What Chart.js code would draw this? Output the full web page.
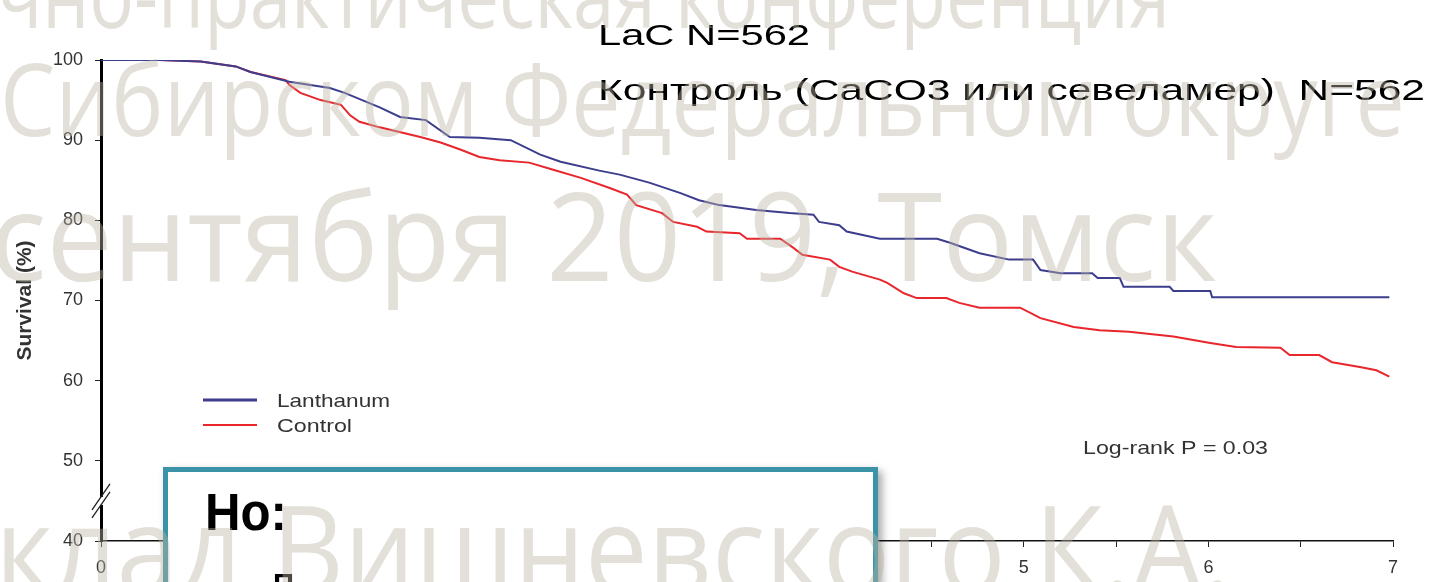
<!DOCTYPE html>
<html>
<head>
<meta charset="utf-8">
<script src="https://cdn.jsdelivr.net/npm/chart.js@4.4.1/dist/chart.umd.min.js"></script>
<style>
  html, body { margin: 0; padding: 0; background: #fff; }
  #wrap { width: 1432px; height: 582px; position: relative; }
</style>
</head>
<body>
<div id="wrap"><canvas id="kmChart"></canvas></div>
<script>
// Kaplan-Meier curves (years, % surviving)
var lanthanumYears = [0, 0.32, 0.54, 0.73, 0.81, 1.02, 1.24, 1.32, 1.51, 1.62, 1.76, 1.89, 2.05, 2.22, 2.38,
    2.49, 2.70, 2.81, 2.97, 3.14, 3.24, 3.35, 3.55, 3.73, 3.86, 3.89, 4.00, 4.04, 4.22, 4.53,
    4.60, 4.76, 4.92, 5.05, 5.09, 5.20, 5.37, 5.40, 5.52, 5.54, 5.79, 5.81, 6.01, 6.02, 6.98];
var lanthanumSurvival = [100, 100, 99.8, 99.2, 98.5, 97.3, 96.5, 95.9, 94.1, 92.9, 92.5, 90.4, 90.3, 90.0, 88.2,
    87.3, 86.2, 85.7, 84.7, 83.4, 82.5, 81.9, 81.3, 80.9, 80.7, 79.8, 79.4, 78.6, 77.7, 77.7,
    77.2, 75.9, 75.1, 75.1, 73.8, 73.4, 73.4, 72.8, 72.8, 71.7, 71.7, 71.2, 71.2, 70.4, 70.4];

var controlYears = [0, 0.32, 0.54, 0.73, 0.81, 1.00, 1.02, 1.08, 1.19, 1.30, 1.35, 1.40, 1.51, 1.73, 1.84,
    1.95, 2.05, 2.16, 2.32, 2.45, 2.60, 2.76, 2.85, 2.90, 3.04, 3.10, 3.23, 3.28, 3.46, 3.50,
    3.68, 3.75, 3.80, 3.95, 4.00, 4.07, 4.22, 4.26, 4.35, 4.42, 4.58, 4.65, 4.76, 4.98, 5.09,
    5.27, 5.41, 5.57, 5.81, 6.01, 6.15, 6.39, 6.44, 6.60, 6.67, 6.82, 6.91, 6.98];
var controlSurvival = [100, 100, 99.8, 99.2, 98.5, 97.5, 96.9, 95.9, 95.0, 94.4, 93.1, 92.3, 91.6, 90.4, 89.7,
    88.8, 87.9, 87.5, 87.2, 86.3, 85.3, 84.0, 83.2, 81.9, 80.9, 79.8, 79.2, 78.6, 78.4, 77.7,
    77.7, 76.6, 75.7, 75.1, 74.2, 73.6, 72.6, 72.2, 70.9, 70.3, 70.3, 69.7, 69.1, 69.1, 67.8,
    66.7, 66.3, 66.1, 65.5, 64.7, 64.2, 64.1, 63.2, 63.2, 62.3, 61.7, 61.3, 60.5];

var seriesNames = ['Lanthanum', 'Control'];
var xTickPositions = [0, 0.5, 1, 1.5, 2, 2.5, 3, 3.5, 4, 4.5, 5, 5.5, 6, 6.5, 7];
var xTickLabels = ['0', '1', '2', '3', '4', '5', '6', '7'];
var yTickValues = [40, 50, 60, 70, 80, 90, 100];

var headerLines = ['LaC N=562', 'Контроль (CaCO3 или севеламер)  N=562'];
var pValueText = 'Log-rank P = 0.03';
var boxTitle = 'Но:';
var watermarkLines = ['чно-практическая конференция', 'Сибирском Федеральном округе',
    'сентября 2019, Томск', 'клад Вишневского К.А.'];

function toPoints(xs, ys) {
    return xs.map(function (x, i) { return { x: x, y: ys[i] }; });
}

// draw text squeezed/stretched to a given width (the slide is stretched sideways)
function fitText(ctx, text, x, y, width, font, color) {
    ctx.save();
    ctx.font = font;
    ctx.fillStyle = color;
    ctx.textBaseline = 'alphabetic';
    ctx.textAlign = 'left';
    var w = ctx.measureText(text).width;
    ctx.translate(x, y);
    ctx.scale(width / w, 1);
    ctx.fillText(text, 0, 0);
    ctx.restore();
}

var slidePlugin = {
    id: 'slideExtras',
    afterDraw: function (chart) {
        var ctx = chart.ctx;
        var yScale = chart.scales.y;
        var xScale = chart.scales.x;
        var axisX = chart.chartArea.left;

        // axis break on the y axis between 40 and 50
        var yb = yScale.getPixelForValue(45);
        ctx.save();
        ctx.fillStyle = '#fff';
        ctx.fillRect(axisX - 3, yb - 4, 6, 8);
        ctx.strokeStyle = '#222';
        ctx.lineWidth = 1.3;
        ctx.beginPath();
        ctx.moveTo(axisX - 9, yb + 9); ctx.lineTo(axisX + 9, yb - 17);
        ctx.moveTo(axisX - 9, yb + 17); ctx.lineTo(axisX + 9, yb - 9);
        ctx.stroke();
        ctx.restore();

        // legend inside the plot
        chart.data.datasets.forEach(function (ds, i) {
            var ly = 400 + i * 25;
            ctx.save();
            ctx.strokeStyle = ds.borderColor;
            ctx.lineWidth = i === 0 ? 3 : 2;
            ctx.beginPath();
            ctx.moveTo(203, ly); ctx.lineTo(257, ly);
            ctx.stroke();
            ctx.restore();
            var tw = i === 0 ? 113 : 75;
            fitText(ctx, ds.label, 277, ly + 7, tw, '19px Arial', '#333');
        });

        fitText(ctx, pValueText, 1083, 454, 185, '19px Arial', '#333');

        // header notes
        fitText(ctx, headerLines[0], 598, 45, 212, '29px Arial', '#000');
        fitText(ctx, headerLines[1], 598, 100, 827, '30px Arial', '#000');

        // overlay text box from the slide
        ctx.save();
        ctx.shadowColor = 'rgba(0,0,0,0.35)';
        ctx.shadowBlur = 8;
        ctx.shadowOffsetX = 4;
        ctx.shadowOffsetY = 4;
        ctx.fillStyle = '#fff';
        ctx.fillRect(163, 467, 715, 160);
        ctx.restore();
        ctx.save();
        ctx.strokeStyle = '#3b93a7';
        ctx.lineWidth = 5;
        ctx.strokeRect(165.5, 469.5, 710, 160);
        ctx.restore();
        fitText(ctx, boxTitle, 205, 530, 82, 'bold 51px Arial', '#000');
        fitText(ctx, 'П', 273, 593, 21, 'bold 28px Arial', '#000');

        // faint conference watermark lying over the slide
        var wm = [
            { x: -3, y: 28, w: 1173, size: 92 },
            { x: 0, y: 136, w: 1405, size: 100 },
            { x: -10, y: 281, w: 1227, size: 122 },
            { x: -5, y: 594, w: 1237, size: 122 }
        ];
        wm.forEach(function (p, i) {
            fitText(ctx, watermarkLines[i], p.x, p.y, p.w, p.size + 'px "Open Sans"', 'rgba(185,180,165,0.42)');
        });
    }
};

Chart.defaults.font.family = 'Arial';
Chart.defaults.color = '#333';

var ctx = document.getElementById('kmChart').getContext('2d');
var kmChart = new Chart(ctx, {
    type: 'line',
    data: {
        datasets: [{
            label: seriesNames[0],
            data: toPoints(lanthanumYears, lanthanumSurvival),
            borderColor: '#3d3d8e',
            borderWidth: 2,
            pointRadius: 0,
            tension: 0
        }, {
            label: seriesNames[1],
            data: toPoints(controlYears, controlSurvival),
            borderColor: '#e8262c',
            borderWidth: 2,
            pointRadius: 0,
            tension: 0
        }]
    },
    options: {
        responsive: true,
        maintainAspectRatio: false,
        animation: false,
        layout: { padding: { top: 60, right: 39, left: 0, bottom: 0 } },
        plugins: {
            legend: { display: false },
            tooltip: { enabled: false }
        },
        scales: {
            x: {
                type: 'linear',
                min: 0,
                max: 7,
                afterBuildTicks: function (scale) {
                    scale.ticks = xTickPositions.map(function (v) { return { value: v }; });
                },
                afterFit: function (scale) { scale.height = 41; },
                ticks: {
                    autoSkip: false,
                    maxRotation: 0,
                    padding: 10,
                    font: { size: 18 },
                    color: '#333',
                    callback: function (value) {
                        return Number.isInteger(value) ? xTickLabels[value] : '';
                    }
                },
                grid: { drawOnChartArea: false, tickLength: 6, color: '#222' },
                border: { color: '#111', width: 1.5 }
            },
            y: {
                min: 40,
                max: 100,
                afterBuildTicks: function (scale) {
                    scale.ticks = yTickValues.map(function (v) { return { value: v }; });
                },
                afterFit: function (scale) { scale.width = 101; },
                ticks: { padding: 12, font: { size: 18 }, color: '#333' },
                grid: { drawOnChartArea: false, tickLength: 6, color: '#222' },
                border: { color: '#000', width: 3 },
                title: {
                    display: true,
                    text: 'Survival (%)',
                    font: { size: 21, weight: 'bold' },
                    color: '#333',
                    padding: { top: 13, bottom: 0 }
                }
            }
        }
    },
    plugins: [slidePlugin]
});
</script>
</body>
</html>
